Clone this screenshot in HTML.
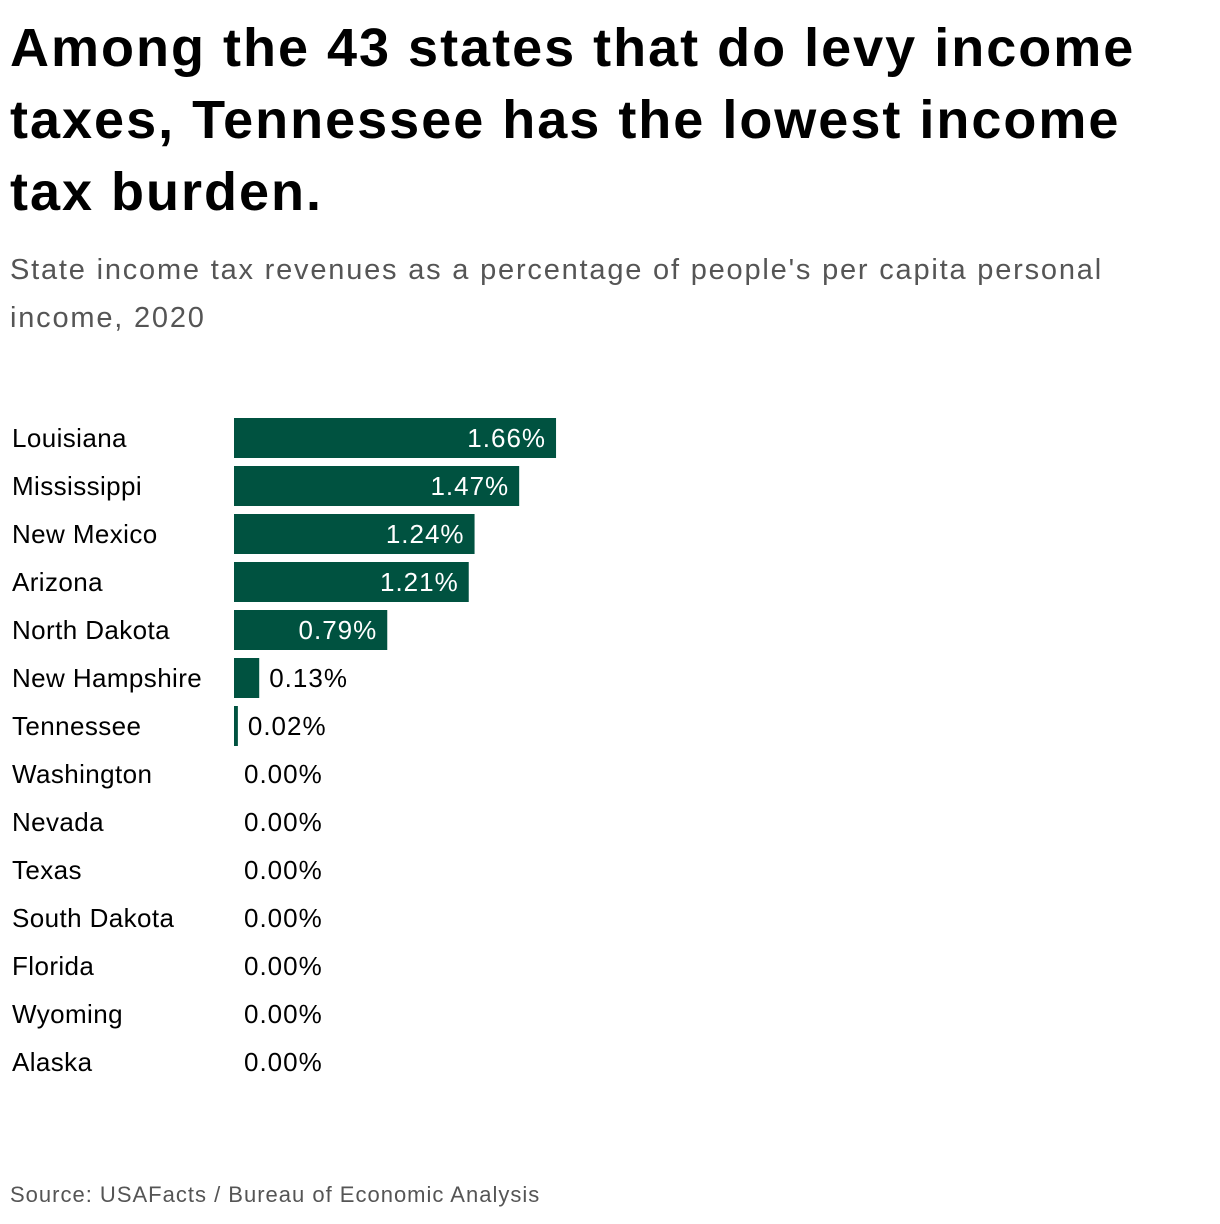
<!DOCTYPE html>
<html><head><meta charset="utf-8">
<style>
body{margin:0;background:#fff;width:1220px;height:1224px;overflow:hidden;font-family:"Liberation Sans",sans-serif;}
#title{position:absolute;left:10px;top:12px;width:1210px;font-size:54px;line-height:72px;color:#000;font-weight:600;letter-spacing:2px;margin:0;white-space:nowrap}
#sub{position:absolute;left:10px;top:246px;width:1210px;font-size:29px;line-height:48px;color:#555;margin:0;letter-spacing:1.8px;white-space:nowrap}
#src{position:absolute;left:10px;top:1182px;font-size:22px;color:#555;letter-spacing:1px}
svg{position:absolute;left:0;top:0}
</style></head><body>
<h1 id="title">Among the 43 states that do levy income<br>taxes, Tennessee has the lowest income<br>tax burden.</h1>
<p id="sub">State income tax revenues as a percentage of people's per capita personal<br>income, 2020</p>
<svg id="chart" width="1220" height="1224"></svg>
<div id="src">Source: USAFacts / Bureau of Economic Analysis</div>
<script>
const states=["Louisiana","Mississippi","New Mexico","Arizona","North Dakota","New Hampshire","Tennessee","Washington","Nevada","Texas","South Dakota","Florida","Wyoming","Alaska"];
const values=[1.66,1.47,1.24,1.21,0.79,0.13,0.02,0,0,0,0,0,0,0];
const x0=234, pxPerUnit=194, top0=418, pitch=48, barH=40;
const xs=v=>v*pxPerUnit;
const ys=i=>top0+i*pitch;
const svg=document.getElementById('chart');
const NS='http://www.w3.org/2000/svg';
states.forEach((s,i)=>{
  const y=ys(i), w=xs(values[i]);
  const lab=document.createElementNS(NS,'text');
  
  
  lab.setAttribute('x',12);lab.setAttribute('y',y+29);
  lab.setAttribute('font-size','26');lab.setAttribute('fill','#000');
  lab.setAttribute('letter-spacing','0.4');
  lab.textContent=s;svg.appendChild(lab);
  if(w>0){
    const r=document.createElementNS(NS,'rect');
    
    
    r.setAttribute('x',x0);r.setAttribute('y',y);
    r.setAttribute('width',Math.max(w,1.5));r.setAttribute('height',barH);
    r.setAttribute('fill','#005240');svg.appendChild(r);
  }
  const t=document.createElementNS(NS,'text');
  
  
  t.setAttribute('font-size','26');t.setAttribute('y',y+29);
  t.setAttribute('letter-spacing','1');
  const txt=values[i].toFixed(2)+'%';
  if(w>110){t.setAttribute('x',x0+w-10);t.setAttribute('text-anchor','end');t.setAttribute('fill','#fff');}
  else{t.setAttribute('x',x0+w+10);t.setAttribute('fill','#000');}
  t.textContent=txt;svg.appendChild(t);
});
</script>
</body></html>
